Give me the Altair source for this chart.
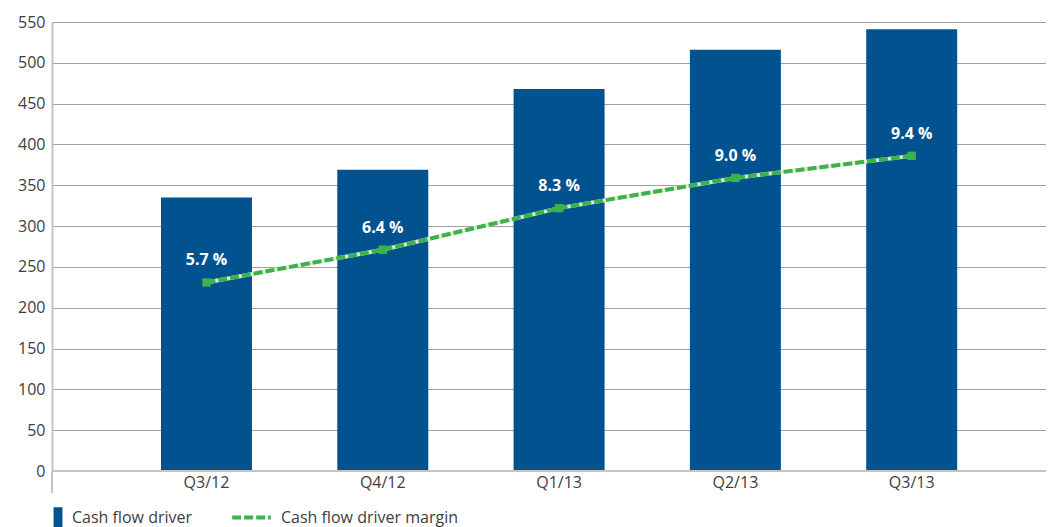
import altair as alt
import pandas as pd

quarters = ["Q3/12", "Q4/12", "Q1/13", "Q2/13", "Q3/13"]
cash_flow_driver = [335, 369, 468, 516, 541]
margin_position = [231, 271, 322, 359, 386]
margin_labels = ["5.7 %", "6.4 %", "8.3 %", "9.0 %", "9.4 %"]
y_ticks = list(range(0, 551, 50))

BLUE = "#02528f"
GREEN = "#3db24a"
FONT = "Open Sans"
TXT = "#404040"

df = pd.DataFrame({
    "quarter": quarters,
    "value": cash_flow_driver,
    "margin": margin_position,
    "label": margin_labels,
    "bar_series": ["Cash flow driver"] * 5,
    "line_series": ["Cash flow driver margin"] * 5,
})

x_enc = alt.X(
    "quarter:N", sort=quarters, title=None,
    scale=alt.Scale(paddingInner=0.484, paddingOuter=0.561, align=0.551),
    axis=alt.Axis(labelAngle=0, domain=False, ticks=False, labelPadding=3,
                  labelFontSize=16, labelColor=TXT, labelFont=FONT),
)
y_scale = alt.Scale(domain=[0, 550], nice=False)

base = alt.Chart(df)

bars = base.mark_bar(color=BLUE).encode(
    x=x_enc,
    y=alt.Y("value:Q", scale=y_scale, title=None,
            axis=alt.Axis(values=y_ticks, grid=True, gridColor="#a0a0a0", gridWidth=1.2,
                          domain=True, domainColor="#c4c4c4", domainWidth=2,
                          ticks=False, labelPadding=7, labelFontSize=16,
                          labelColor=TXT, labelFont=FONT)),
    color=alt.Color("bar_series:N", scale=alt.Scale(range=[BLUE]),
                    legend=alt.Legend(orient="none", legendX=-2, legendY=488, title=None,
                                      symbolType="M-1,-2.4H1V2.4H-1Z",
                                      symbolSize=80, symbolStrokeWidth=0,
                                      labelFontSize=16, labelColor=TXT, labelLimit=300,
                                      labelFont=FONT, labelOffset=6)),
)

zero_rule = alt.Chart(pd.DataFrame({"z": [0]})).mark_rule(color="#c4c4c4", strokeWidth=2).encode(
    y=alt.Y("z:Q", scale=y_scale)
)

axis_ext = alt.Chart(pd.DataFrame({"z": [0]})).mark_rule(color="#c4c4c4", strokeWidth=2).encode(
    x=alt.value(0), y=alt.value(449), y2=alt.value(471)
)

line_under = base.mark_line(color="#dcebd5", strokeWidth=4).encode(
    x=alt.X("quarter:N", sort=quarters),
    y=alt.Y("margin:Q", scale=y_scale),
)

line_dash = base.mark_line(strokeWidth=4, strokeDash=[9, 3]).encode(
    x=alt.X("quarter:N", sort=quarters),
    y=alt.Y("margin:Q", scale=y_scale),
    stroke=alt.Stroke("line_series:N", scale=alt.Scale(range=[GREEN]),
                      legend=alt.Legend(orient="none", legendX=178, legendY=474, title=None,
                                        symbolType="stroke", symbolSize=1500,
                                        symbolStrokeWidth=4, symbolDash=[9, 3],
                                        labelFontSize=16, labelColor=TXT, labelLimit=300,
                                        labelFont=FONT, labelOffset=8)),
)

points = base.mark_square(size=70, color=GREEN, opacity=1).encode(
    x=alt.X("quarter:N", sort=quarters),
    y=alt.Y("margin:Q", scale=y_scale),
)

labels = base.mark_text(color="white", fontWeight="bold", fontSize=16, font=FONT, dy=-22).encode(
    x=alt.X("quarter:N", sort=quarters),
    y=alt.Y("margin:Q", scale=y_scale),
    text="label:N",
)

chart = alt.layer(bars, zero_rule, axis_ext, line_under, line_dash, points, labels).resolve_scale(
    color="independent"
).properties(
    width=994, height=449,
    autosize=alt.AutoSizeParams(type="none"),
    padding={"left": 44, "top": 14, "right": 0, "bottom": 60},
).configure_view(stroke=None).configure(background="white")

chart.save("out.html", embed_options={"renderer": "svg", "actions": False})
